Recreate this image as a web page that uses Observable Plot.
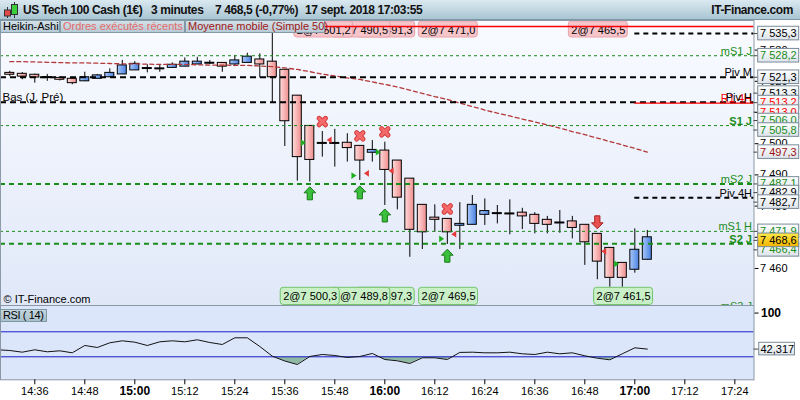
<!DOCTYPE html>
<html lang="fr"><head><meta charset="utf-8">
<script src="https://cdn.jsdelivr.net/npm/d3@7"></script>
<script src="https://cdn.jsdelivr.net/npm/@observablehq/plot@0.6"></script>
<style>
html,body{margin:0;padding:0;overflow:hidden;}
body{width:800px;height:400px;position:relative;background:#fff;font-family:"Liberation Sans",Arial,sans-serif;}
#header{position:absolute;left:0;top:0;width:800px;height:19px;background:linear-gradient(#dbe9f0,#a9c5d3);border-bottom:1px solid #7f97a5;}
#header span{position:absolute;top:3px;font-weight:bold;font-size:12px;letter-spacing:-0.4px;line-height:14px;color:#111;white-space:nowrap;}
.leg{position:absolute;top:20px;height:13px;box-sizing:border-box;border:1px solid #8299a6;background:linear-gradient(#d2e0e7,#b7cbd6);font-size:11px;line-height:11px;padding-left:2px;white-space:nowrap;}
#main{position:absolute;left:0;top:20px;}
#rsi{position:absolute;left:0;top:305px;}
#rsilab{position:absolute;left:0;top:309px;width:47px;height:13px;box-sizing:border-box;border:1px solid #7f98a6;background:linear-gradient(#c3d5de,#a9c0cc);font-size:11px;line-height:11px;padding-left:2px;letter-spacing:-0.4px;white-space:nowrap;}
</style></head><body>
<svg width="0" height="0" style="position:absolute"><defs>
<linearGradient id="gBg" x1="0" y1="0" x2="0" y2="1"><stop offset="0" stop-color="#f9fbff"/><stop offset="1" stop-color="#e0e8f8"/></linearGradient>
<linearGradient id="gPink" x1="0" y1="0" x2="1" y2="0"><stop offset="0" stop-color="#ffdcdc"/><stop offset="1" stop-color="#ef8d8d"/></linearGradient>
<linearGradient id="gBlue" x1="0" y1="0" x2="1" y2="0"><stop offset="0" stop-color="#a8c8fa"/><stop offset="1" stop-color="#4b82e0"/></linearGradient>
<linearGradient id="gBox" x1="0" y1="0" x2="0" y2="1"><stop offset="0" stop-color="#ffffff"/><stop offset="1" stop-color="#dce3ea"/></linearGradient>
<linearGradient id="gCur" x1="0" y1="0" x2="0" y2="1"><stop offset="0" stop-color="#ffe84a"/><stop offset="1" stop-color="#f2b400"/></linearGradient>
</defs></svg>
<div id="header">
 <svg width="18" height="19" style="position:absolute;left:2px;top:0">
  <line x1="5.5" y1="7" x2="5.5" y2="18" stroke="#333"/>
  <rect x="2.5" y="10" width="6" height="6" fill="#e34a4a" stroke="#333"/>
  <line x1="12.5" y1="2" x2="12.5" y2="18" stroke="#333"/>
  <rect x="9.5" y="4.5" width="6" height="10" fill="#3ccf3c" stroke="#333"/>
 </svg>
 <span style="left:23px">US Tech 100 Cash (1€)</span>
 <span style="left:151px">3 minutes</span>
 <span style="left:215px">7 468,5 (-0,77%)</span>
 <span style="left:305px">17 sept. 2018 17:03:55</span>
 <span style="right:7px">IT-Finance.com</span>
</div>
<div id="main"></div>
<div class="leg" style="left:0;width:60px;color:#000">Heikin-Ashi</div>
<div class="leg" style="left:60px;width:125px;color:#e46a6a">Ordres exécutés récents</div>
<div class="leg" style="left:185px;width:140px;color:#a11616">Moyenne mobile (Simple 50)</div>
<div id="rsi"></div>
<div id="rsilab">RSI ( 14)</div>
<script>
// ---------- data ----------
const times = ["14:30","14:33","14:36","14:39","14:42","14:45","14:48","14:51","14:54","14:57",
  "15:00","15:03","15:06","15:09","15:12","15:15","15:18","15:21","15:24","15:27",
  "15:30","15:33","15:36","15:39","15:42","15:45","15:48","15:51","15:54","15:57",
  "16:00","16:03","16:06","16:09","16:12","16:15","16:18","16:21","16:24","16:27",
  "16:30","16:33","16:36","16:39","16:42","16:45","16:48","16:51","16:54","16:57",
  "17:00","17:03"];
const opens = [7522.7,7522.4,7522.1,7521.4,7521.1,7520.8,7520.0,7520.8,7521.3,7522.2,
  7523.5,7524.2,7524.2,7524.3,7524.7,7525.4,7525.9,7525.9,7525.4,7525.9,
  7527.0,7526.3,7523.7,7515.4,7505.7,7500.3,7500.3,7500.3,7499.3,7497.1,
  7497.8,7494.6,7488.8,7480.4,7476.3,7475.9,7473.7,7474.0,7477.2,7477.8,
  7477.7,7477.9,7477.2,7475.6,7474.8,7475.1,7474.0,7471.1,7466.6,7461.8,
  7459.6,7462.8];
const highs = [7523.2,7522.8,7522.3,7522.2,7521.5,7521.3,7522.9,7522.2,7524.0,7526.7,
  7526.3,7525.3,7525.1,7525.9,7527.5,7527.7,7526.7,7526.0,7528.3,7529.0,
  7528.8,7537.6,7523.7,7515.4,7505.7,7503.9,7504.6,7503.2,7499.3,7501.0,
  7500.5,7494.6,7488.8,7480.4,7480.4,7475.9,7481.1,7483.4,7482.3,7480.2,
  7482.0,7479.3,7477.9,7476.7,7478.6,7476.7,7474.0,7471.1,7466.6,7461.8,
  7472.7,7472.2];
const lows = [7521.5,7520.5,7519.4,7520.0,7520.1,7518.9,7519.9,7520.7,7521.3,7522.2,
  7523.5,7522.7,7522.9,7524.3,7524.7,7525.4,7525.4,7522.9,7524.7,7525.9,
  7521.1,7513.0,7499.1,7488.0,7487.7,7495.7,7492.5,7494.1,7488.2,7494.1,
  7480.2,7478.8,7463.6,7466.1,7471.6,7467.7,7466.1,7474.0,7473.8,7474.3,
  7470.8,7472.5,7471.1,7471.1,7471.3,7469.5,7461.0,7456.4,7454.0,7454.0,
  7458.5,7462.8];
const closes = [7522.1,7521.5,7521.2,7521.3,7520.5,7519.4,7521.3,7521.9,7522.7,7525.1,
  7525.6,7524.3,7524.1,7525.3,7526.3,7526.3,7526.0,7524.7,7526.7,7527.9,
  7525.4,7521.3,7507.2,7495.7,7494.8,7500.2,7500.2,7498.6,7494.6,7498.0,
  7491.6,7482.7,7472.4,7471.6,7475.6,7471.6,7474.3,7480.4,7478.4,7477.7,
  7477.6,7476.7,7474.3,7474.0,7474.7,7473.0,7468.4,7462.2,7457.0,7457.0,
  7466.0,7470.0];
const maValues = [7526.3,7526.3,7526.2,7526.1,7526.0,7525.9,7525.9,7525.8,7525.7,7525.6,
  7525.6,7525.5,7525.4,7525.4,7525.4,7525.3,7525.2,7525.2,7525.1,7525.1,
  7524.9,7524.7,7524.3,7523.8,7523.1,7522.3,7521.7,7521.1,7520.6,7519.8,
  7519.0,7518.2,7517.2,7516.1,7515.1,7514.2,7513.0,7511.9,7510.8,7509.8,
  7508.9,7507.9,7507.0,7506.0,7505.0,7503.9,7502.9,7501.8,7500.7,7499.6,
  7498.5,7497.3];
const rsiTimes = ["14:27"].concat(times);
const rsiValues = [41.3,40.1,37.4,41.2,38.0,39.6,36.4,48.1,44.9,52.4,55.6,
  53.4,48.1,54.0,55.6,54.0,57.2,52.9,49.7,60.4,60.4,
  46.5,31.0,23.3,17.7,30.5,33.7,32.1,28.9,30.5,35.3,
  25.7,23.6,19.3,28.4,28.4,25.7,37.0,37.4,36.4,36.4,
  37.4,34.8,33.7,37.4,34.8,36.4,31.6,27.8,25.2,34.8,
  44.4,42.317];
const rsiLevels = [30, 70];
const rsiTicks = [100];

const levelNames  = ["Haut (J, Pré)","R2 4H","mS1 J","Piv M","Bas (J, Pré)","R1 4H","S1 J","mS2 J","Piv 4H","mS1 H","S2 J","mS3 J"];
const levelPrices = [7537.6,7535.3,7528.2,7521.3,7513.3,7513.0,7505.8,7487.1,7482.7,7471.9,7467.9,7446.5];
const levelKinds  = ["prevHigh","pivot4h","minor","pivot","prevLow","res4h","minor","major","pivot4h","minor","major","major"];
const levelStarts = [null,"17:00",null,null,null,"17:00",null,null,"17:00",null,null,null];

const rightLabelNames  = ["mS1 J","Piv M","R1 4H","Piv H","S1 J","mS2 J","Piv 4H","mS1 H","S2 J","mS3 J"];
const rightLabelPrices = [7528.2,7521.3,7513.0,7513.3,7505.8,7487.1,7482.7,7471.9,7467.9,7446.5];
const leftLabelNames  = ["Bas (J, Pré)"];
const leftLabelPrices = [7513.3];

const buyTimes  = ["15:40:25","15:52:34","15:58:25","16:13:37","16:55:37"];
const buyPrices = [7500.3,7489.8,7497.3,7469.5,7461.5];
const sellTimes  = ["15:46:40","15:55:37","16:01:32","16:16:34","16:52:34"];
const sellPrices = [7501.2,7490.5,7491.3,7471.0,7465.5];
const orderQty = [2,2,2,2,2];

const upTimes = ["15:42","15:54","16:00","16:15"];
const upPrices = [7484.1,7484.4,7477.0,7464.1];
const exitTimes = ["15:45","15:54","16:00","16:15"];
const exitPrices = [7507.1,7502.5,7503.8,7479.1];
const downTimes = ["16:51"];
const downPrices = [7474.8];

const priceTicks = [7460,7470,7480,7490,7500,7510,7520,7530];
const axisBoxPrices = [7535.3,7528.2,7521.3,7513.3,7513.2,7513.0,7506.0,7505.8,7497.3,7487.1,7482.9,7482.7,7471.9,7466.4];
const axisBoxKinds  = ["pivot","support","pivot","pivot","resistance","resistance","support","support","average","support","pivot","pivot","support","support"];
const lastPrice = 7468.6;
const axisTimes = ["14:36","14:48","15:00","15:12","15:24","15:36","15:48","16:00","16:12","16:24","16:36","16:48","17:00","17:12","17:24"];

// ---------- helpers ----------
const T = s => { const p = s.split(":").map(Number); return (p[0] - 14) * 60 + p[1] + (p[2] || 0) / 60; };
const fmt1 = p => d3.format(",.1f")(p).replace(",", " ").replace(".", ",");
const fmt0 = p => d3.format(",")(p).replace(",", " ");
const fmtT = m => (14 + Math.floor(m / 60)) + ":" + String(Math.round(m % 60)).padStart(2, "0");
const FONT = '"Liberation Sans", Arial, sans-serif';
const GREEN = "#1a8c1a";
const kindColor = {pivot: "#000", support: GREEN, resistance: "#ff0000", average: "#9b1010", last: "#000"};

const X0 = 27.77, X1 = 208.6;
const Y0 = 7448.14, Y1 = 7539.49;
const W = 800, MR = 46.5, MAIN_H = 285;
const PPM = (W - MR) / (X1 - X0);
const PPP = MAIN_H / (Y1 - Y0);
const mx = px => px / PPM;
const my = px => px / PPP;

// ---------- derived tables ----------
const candles = times.map((t, i) => ({t: T(t), o: opens[i], h: highs[i], l: lows[i], c: closes[i]}));
const isDoji = d => Math.abs(d.c - d.o) < 0.15;
const HW = mx(4.5);
const ma = times.map((t, i) => ({t: T(t), v: maValues[i]}));
const levels = levelPrices.map((p, i) => ({p, name: levelNames[i], kind: levelKinds[i], start: levelStarts[i] ? T(levelStarts[i]) : X0}));
const rightLabels = rightLabelNames.map((n, i) => ({n, p: rightLabelPrices[i]}));
const leftLabels = leftLabelNames.map((n, i) => ({n, p: leftLabelPrices[i]}));
const buys = buyTimes.map((t, i) => ({t: T(t), p: buyPrices[i], label: orderQty[i] + "@" + fmt1(buyPrices[i])}));
const sells = sellTimes.map((t, i) => ({t: T(t), p: sellPrices[i], label: orderQty[i] + "@" + fmt1(sellPrices[i])}));
const ups = upTimes.map((t, i) => ({t: T(t), p: upPrices[i]}));
const exits = exitTimes.map((t, i) => ({t: T(t), p: exitPrices[i]}));
const downs = downTimes.map((t, i) => ({t: T(t), p: downPrices[i]}));

// symbols
const arrowUp = {draw(c) { c.moveTo(0,-6.5); c.lineTo(5.8,-0.5); c.lineTo(2.6,-0.5); c.lineTo(2.6,6.5); c.lineTo(-2.6,6.5); c.lineTo(-2.6,-0.5); c.lineTo(-5.8,-0.5); c.closePath(); }};
const arrowDown = {draw(c) { c.moveTo(0,6.5); c.lineTo(5.8,0.5); c.lineTo(2.6,0.5); c.lineTo(2.6,-6.5); c.lineTo(-2.6,-6.5); c.lineTo(-2.6,0.5); c.lineTo(-5.8,0.5); c.closePath(); }};
const triRight = {draw(c) { c.moveTo(-2.4,-3.4); c.lineTo(2.6,0); c.lineTo(-2.4,3.4); c.closePath(); }};
const triLeft = {draw(c) { c.moveTo(2.4,-3.4); c.lineTo(-2.6,0); c.lineTo(2.4,3.4); c.closePath(); }};
const crossX = {draw(c) { const s = 3.2; c.moveTo(-s,-s); c.lineTo(s,s); c.moveTo(s,-s); c.lineTo(-s,s); }};

const lineStyle = {
  pivot4h: {stroke: "#000", strokeWidth: 2, strokeDasharray: "5,4"},
  minor:   {stroke: GREEN, strokeWidth: 1, strokeDasharray: "3,3"},
  pivot:   {stroke: "#000", strokeWidth: 2, strokeDasharray: "6,4"},
  prevLow: {stroke: "#000", strokeWidth: 2, strokeDasharray: "6,4"},
  res4h:   {stroke: "#ff0000", strokeWidth: 1.2},
  major:   {stroke: GREEN, strokeWidth: 2, strokeDasharray: "5,4"}
};

// right axis labels with simple collision spreading
const boxItems = axisBoxPrices.map((p, i) => ({p, kind: axisBoxKinds[i]}))
  .concat([{p: lastPrice, kind: "last"}]).sort((a, b) => b.p - a.p);
{
  const gap = my(10), step = my(9.5);
  const groups = [];
  for (const it of boxItems) {
    const g = groups[groups.length - 1];
    if (g && g[g.length - 1].p - it.p < gap) g.push(it); else groups.push([it]);
  }
  for (const g of groups) {
    const m = d3.mean(g, d => d.p);
    g.forEach((d, k) => d.pos = m + step * ((g.length - 1) / 2 - k));
  }
}
const drawOrder = boxItems.filter(d => d.kind !== "last").concat(boxItems.filter(d => d.kind === "last"));
const boxMarks = drawOrder.flatMap(d => [
  Plot.ruleY([d], {y: "pos", x1: X1, x2: X1 + mx(4.2), stroke: "#444"}),
  Plot.rect([d], {x1: X1 + mx(4.2), x2: X1 + mx(45.2), y1: e => e.pos - my(6.8), y2: e => e.pos + my(6.8),
    fill: d.kind === "last" ? "url(#gCur)" : "url(#gBox)", stroke: "#7a8a98"}),
  Plot.text([d], {x: X1 + mx(6), y: "pos", text: e => fmt1(e.p), textAnchor: "start", fontSize: 11, fill: kindColor[d.kind]})
]);

const buyMarks = buys.slice().reverse().flatMap(d => [
  Plot.rect([d], {x1: e => e.t - mx(22.5), x2: e => e.t + mx(36.5), y1: Y0 + my(0.5), y2: Y0 + my(17.7), fill: "#c8efc5", stroke: "#74c46f", rx: 3}),
  Plot.text([d], {x: e => e.t + mx(7), y: Y0 + my(9), text: "label", fontSize: 11, fill: "#000"})
]);
const sellMarks = sells.slice().reverse().flatMap(d => [
  Plot.rect([d], {x1: e => e.t - mx(35), x2: e => e.t + mx(24), y1: Y1 - my(17), y2: Y1 - my(1), fill: "#f5c5ca", stroke: "#eaa3ab", rx: 3}),
  Plot.text([d], {x: e => e.t - mx(5.5), y: Y1 - my(9.5), text: "label", fontSize: 11, fill: "#000"})
]);

const labelColor = n => n.startsWith("Piv") ? "#000" : n.startsWith("R") ? "#ff0000" : GREEN;
const isBold = n => /^S\d/.test(n);

const main = Plot.plot({
  width: W, height: MAIN_H,
  marginLeft: 0, marginRight: MR, marginTop: 0, marginBottom: 0,
  style: {background: "#fff", fontFamily: FONT, fontSize: "11px", overflow: "visible"},
  x: {domain: [X0, X1], axis: null},
  y: {domain: [Y0, Y1]},
  marks: [
    Plot.frame({fill: "url(#gBg)"}),
    Plot.axisY({anchor: "right", ticks: priceTicks, tickFormat: fmt0, tickSize: 4, tickPadding: 2, fontSize: 11, label: null}),
    Plot.ruleX(candles, {x: "t", y1: "l", y2: "h", stroke: "#000", strokeWidth: 1}),
    Plot.rect(candles, {filter: d => !isDoji(d) && d.c > d.o, x1: d => d.t - HW, x2: d => d.t + HW, y1: "o", y2: "c", fill: "url(#gBlue)", stroke: "#000"}),
    Plot.rect(candles, {filter: d => !isDoji(d) && d.c < d.o, x1: d => d.t - HW, x2: d => d.t + HW, y1: "o", y2: "c", fill: "url(#gPink)", stroke: "#000"}),
    Plot.ruleY(candles, {filter: isDoji, y: d => (d.o + d.c) / 2, x1: d => d.t - HW - mx(0.5), x2: d => d.t + HW + mx(0.5), stroke: "#000", strokeWidth: 2}),
    Plot.line(ma, {x: "t", y: "v", stroke: "#b53838", strokeWidth: 1.3, strokeDasharray: "4,3"}),
    ...Object.entries(lineStyle).map(([k, s]) =>
      Plot.ruleY(levels, {filter: d => d.kind === k, y: "p", x1: "start", x2: X1, ...s})),
    Plot.dot(buys, {x: "t", y: "p", symbol: triRight, fill: "#1fae1f", stroke: "none"}),
    Plot.dot(sells, {x: "t", y: "p", symbol: triLeft, fill: "#e43a3a", stroke: "none"}),
    Plot.dot(ups, {x: "t", y: "p", symbol: arrowUp, fill: "#3cbf3c", stroke: "#177a17", strokeWidth: 1}),
    Plot.dot(downs, {x: "t", y: "p", symbol: arrowDown, fill: "#ea5050", stroke: "#a82222", strokeWidth: 1}),
    Plot.dot(exits, {x: "t", y: "p", symbol: crossX, fill: "none", stroke: "#d43c3c", strokeWidth: 5, strokeLinecap: "round"}),
    Plot.dot(exits, {x: "t", y: "p", symbol: crossX, fill: "none", stroke: "#f56a6a", strokeWidth: 3, strokeLinecap: "round"}),
    ...buyMarks,
    ...sellMarks,
    Plot.ruleY(levels, {filter: d => d.kind === "prevHigh", y: "p", x1: "start", x2: X1, stroke: "#ff0000", strokeWidth: 1.5}),
    Plot.text(rightLabels, {filter: d => !isBold(d.n) && labelColor(d.n) === "#ff0000", x: X1 - mx(2), y: "p", text: "n", textAnchor: "end", lineAnchor: "bottom", dy: -1, fontSize: 11, fill: "#ff0000"}),
    Plot.text(rightLabels, {filter: d => !isBold(d.n) && labelColor(d.n) === "#000", x: X1 - mx(2), y: "p", text: "n", textAnchor: "end", lineAnchor: "bottom", dy: -1, fontSize: 11, fill: "#000"}),
    Plot.text(rightLabels, {filter: d => !isBold(d.n) && labelColor(d.n) === GREEN, x: X1 - mx(2), y: "p", text: "n", textAnchor: "end", lineAnchor: "bottom", dy: -1, fontSize: 11, fill: GREEN}),
    Plot.text(rightLabels, {filter: d => isBold(d.n), x: X1 - mx(2), y: "p", text: "n", textAnchor: "end", lineAnchor: "bottom", dy: -1, fontSize: 11, fontWeight: "bold", fill: GREEN}),
    Plot.text(leftLabels, {x: X0 + mx(2), y: "p", text: "n", textAnchor: "start", lineAnchor: "bottom", dy: -1, fontSize: 11.5, fill: "#000"}),
    Plot.text(["© IT-Finance.com"], {frameAnchor: "bottom-left", text: d => d, dx: 3, dy: -3, textAnchor: "start", lineAnchor: "bottom", fontSize: 11, fill: "#000"}),
    Plot.frame({stroke: "#8d9aa7"}),
    ...boxMarks
  ]
});
document.getElementById("main").appendChild(main);

// ---------- RSI panel ----------
const RY0 = -6.8, RY1 = 112.08, RSI_H = 95, RMB = 20.7;
const PPR = (RSI_H - RMB) / (RY1 - RY0);
const rsiData = rsiTimes.map((t, i) => ({t: T(t), v: rsiValues[i]}));
const rsiLast = rsiValues[rsiValues.length - 1];
const hourTicks = axisTimes.filter(s => s.endsWith(":00")).map(T);
const regTicks = axisTimes.filter(s => !s.endsWith(":00")).map(T);
const BG = "#dce6fb";

const rsi = Plot.plot({
  width: W, height: RSI_H,
  marginLeft: 0, marginRight: MR, marginTop: 0, marginBottom: RMB,
  style: {background: "#fff", fontFamily: FONT, fontSize: "11px", overflow: "visible"},
  x: {domain: [X0, X1], label: null},
  y: {domain: [RY0, RY1], label: null},
  marks: [
    Plot.frame({fill: BG}),
    Plot.areaY(rsiData, {x: "t", y1: 30, y2: "v", fill: "#8fb9a3", clip: true}),
    Plot.rect([0], {x1: X0, x2: X1, y1: 30, y2: RY1, fill: BG}),
    Plot.ruleY(rsiLevels, {x1: X0, x2: X1, stroke: "#1c1cc8", strokeWidth: 1}),
    Plot.line(rsiData, {x: "t", y: "v", stroke: "#111", strokeWidth: 1, clip: true}),
    Plot.frame({stroke: "#8a97a3"}),
    Plot.axisX({ticks: regTicks, tickFormat: fmtT, tickSize: 5, tickPadding: 2, fontSize: 11, label: null}),
    Plot.axisX({ticks: hourTicks, tickFormat: fmtT, tickSize: 5, tickPadding: 2, fontSize: 12, fontWeight: "bold", label: null}),
    Plot.axisY({anchor: "right", ticks: rsiTicks, tickSize: 4, tickPadding: 3, fontSize: 12, fontWeight: "bold", label: null}),
    Plot.ruleY([rsiLast], {x1: X1, x2: X1 + mx(5.2), stroke: "#444"}),
    Plot.rect([rsiLast], {x1: X1 + mx(5.2), x2: X1 + mx(41), y1: d => d - 6.3 / PPR, y2: d => d + 6.3 / PPR, fill: "url(#gBox)", stroke: "#7a8a98"}),
    Plot.text([rsiLast], {x: X1 + mx(6.5), y: d => d, text: d => d3.format(".3f")(d).replace(".", ","), textAnchor: "start", fontSize: 11, fill: "#000"})
  ]
});
document.getElementById("rsi").appendChild(rsi);
</script>
</body></html>
